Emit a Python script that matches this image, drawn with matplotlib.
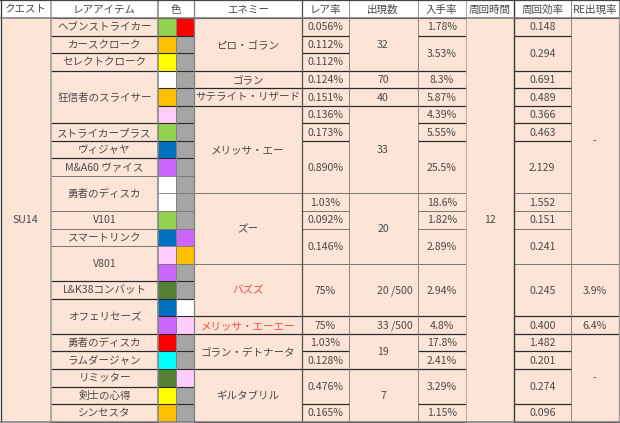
import matplotlib
matplotlib.use('Agg')
import matplotlib.pyplot as plt
from matplotlib.patches import Rectangle

plt.rcParams['font.family'] = ['Noto Sans CJK JP', 'DejaVu Sans']

# ----- Data -----
headers = ['クエスト', 'レアアイテム', '色', 'エネミー', 'レア率', '出現数', '入手率', '周回時間', '周回効率', 'RE出現率']

quest = [(0, 22, 'SU14')]

items = [(0, 0, 'ヘブンストライカー'), (1, 1, 'カースクローク'), (2, 2, 'セレクトクローク'),
         (3, 5, '狂信者のスライサー'), (6, 6, 'ストライカープラス'), (7, 7, 'ヴィジャヤ'),
         (8, 8, 'M&A60 ヴァイス'), (9, 10, '勇者のディスカ'), (11, 11, 'V101'),
         (12, 12, 'スマートリンク'), (13, 14, 'V801'), (15, 15, 'L&K38コンバット'),
         (16, 17, 'オフェリセーズ'), (18, 18, '勇者のディスカ'), (19, 19, 'ラムダージャン'),
         (20, 20, 'リミッター'), (21, 21, '剣士の心得'), (22, 22, 'シンセスタ')]

GREEN, RED, ORANGE, YELLOW = '#92D050', '#FF0000', '#FFC000', '#FFFF00'
WHITE, GRAY, PINK, BLUE = '#FFFFFF', '#A5A5A5', '#FFCCFF', '#0070C0'
PURPLE, DKGREEN, CYAN = '#CC66FF', '#548235', '#00FFFF'

color1 = [GREEN, ORANGE, YELLOW, WHITE, ORANGE, PINK, GREEN, BLUE, PURPLE, WHITE, WHITE, GREEN,
          BLUE, PINK, PURPLE, DKGREEN, BLUE, PURPLE, RED, CYAN, DKGREEN, YELLOW, ORANGE]
color2 = [RED, GRAY, GRAY, GRAY, GRAY, GRAY, GRAY, GRAY, GRAY, GRAY, GRAY, GRAY,
          PURPLE, ORANGE, GRAY, GRAY, WHITE, PINK, GRAY, GRAY, PINK, GRAY, GRAY]

enemies = [(0, 2, 'ピロ・ゴラン'), (3, 3, 'ゴラン'), (4, 4, 'サテライト・リザード'),
           (5, 9, 'メリッサ・エー'), (10, 13, 'ズー'), (14, 16, 'バズズ'),
           (17, 17, 'メリッサ・エーエー'), (18, 19, 'ゴラン・デトナータ'), (20, 22, 'ギルタブリル')]
red_enemies = ['バズズ', 'メリッサ・エーエー']

rare = [(0, 0, '0.056%'), (1, 1, '0.112%'), (2, 2, '0.112%'), (3, 3, '0.124%'), (4, 4, '0.151%'),
        (5, 5, '0.136%'), (6, 6, '0.173%'), (7, 9, '0.890%'), (10, 10, '1.03%'), (11, 11, '0.092%'),
        (12, 13, '0.146%'), (14, 16, '75%'), (17, 17, '75%'), (18, 18, '1.03%'), (19, 19, '0.128%'),
        (20, 21, '0.476%'), (22, 22, '0.165%')]

appear = [(0, 2, '32'), (3, 3, '70'), (4, 4, '40'), (5, 9, '33'), (10, 13, '20'), (14, 16, '20 /500'),
          (17, 17, '33 /500'), (18, 19, '19'), (20, 22, '7')]

obtain = [(0, 0, '1.78%'), (1, 2, '3.53%'), (3, 3, '8.3%'), (4, 4, '5.87%'), (5, 5, '4.39%'),
          (6, 6, '5.55%'), (7, 9, '25.5%'), (10, 10, '18.6%'), (11, 11, '1.82%'), (12, 13, '2.89%'),
          (14, 16, '2.94%'), (17, 17, '4.8%'), (18, 18, '17.8%'), (19, 19, '2.41%'),
          (20, 21, '3.29%'), (22, 22, '1.15%')]

lap_time = [(0, 22, '12')]

efficiency = [(0, 0, '0.148'), (1, 2, '0.294'), (3, 3, '0.691'), (4, 4, '0.489'), (5, 5, '0.366'),
              (6, 6, '0.463'), (7, 9, '2.129'), (10, 10, '1.552'), (11, 11, '0.151'), (12, 13, '0.241'),
              (14, 16, '0.245'), (17, 17, '0.400'), (18, 18, '1.482'), (19, 19, '0.201'),
              (20, 21, '0.274'), (22, 22, '0.096')]

re_rate = [(0, 13, '-'), (14, 16, '3.9%'), (17, 17, '6.4%'), (18, 22, '-')]

# ----- Mise en page (pixels) -----
W, H = 620, 423
HEADER_H = 18
ROW_H = 17.55
N_ROWS = 23
X_EDGES = [0.5, 51, 158, 176, 193.5, 302, 348.5, 417.5, 466, 513.5, 571, 618.5]
FILL = '#FCE4D6'
TEXT = '#4A4A4A'
DARK = '#2A2A2A'
THIN = '#7A7672'
THIN_TOPS = [9, 10, 11, 12, 13, 14]  # lignes plus claires au milieu du tableau
FS = 7.6
TEXT_DY = 0.6


def row_y(k):
    return HEADER_H + k * ROW_H


def hline(ax, x0, x1, k):
    color = THIN if k in THIN_TOPS else DARK
    lw = 0.6 if k in THIN_TOPS else 0.8
    ax.plot([x0, x1], [row_y(k), row_y(k)], color=color, lw=lw, solid_capstyle='butt', zorder=3)


def draw_column(ax, col, cells, align='center', pad=5):
    x0, x1 = X_EDGES[col], X_EDGES[col + 1]
    for start, end, label in cells:
        hline(ax, x0, x1, start)
        hline(ax, x0, x1, end + 1)
        y = (row_y(start) + row_y(end + 1)) / 2 + TEXT_DY
        color = '#F04848' if label in red_enemies else TEXT
        if align == 'right' and '/' in label:
            ax.text(x1 - pad, y, label, ha='right', va='center', fontsize=FS, color=color, zorder=4)
        else:
            ax.text((x0 + x1) / 2, y, label, ha='center', va='center', fontsize=FS, color=color, zorder=4)


fig = plt.figure(figsize=(W / 100, H / 100), dpi=100)
ax = fig.add_axes([0, 0, 1, 1])
ax.set_xlim(0, W)
ax.set_ylim(H, 0)
ax.axis('off')

# fond
ax.add_patch(Rectangle((X_EDGES[0], row_y(0)), X_EDGES[-1] - X_EDGES[0], N_ROWS * ROW_H,
                       facecolor=FILL, edgecolor='none', zorder=1))

# en-tête
header_cols = [0, 1, 2, 4, 5, 6, 7, 8, 9, 10]
for col, label in zip(header_cols, headers):
    x0 = X_EDGES[col]
    x1 = X_EDGES[col + 2] if col == 2 else X_EDGES[col + 1]
    ax.text((x0 + x1) / 2, HEADER_H / 2 + TEXT_DY, label, ha='center', va='center',
            fontsize=FS, color=TEXT, zorder=4)

# cases de couleur
for i, (c1, c2) in enumerate(zip(color1, color2)):
    ax.add_patch(Rectangle((X_EDGES[2], row_y(i)), X_EDGES[3] - X_EDGES[2], ROW_H, facecolor=c1, edgecolor='none', zorder=2))
    ax.add_patch(Rectangle((X_EDGES[3], row_y(i)), X_EDGES[4] - X_EDGES[3], ROW_H, facecolor=c2, edgecolor='none', zorder=2))
    hline(ax, X_EDGES[2], X_EDGES[4], i)

draw_column(ax, 1, items)
draw_column(ax, 4, enemies)
draw_column(ax, 5, rare)
draw_column(ax, 6, appear, align='right')
draw_column(ax, 7, obtain)
draw_column(ax, 9, efficiency)
draw_column(ax, 10, re_rate)

# colonnes sans lignes internes
ax.text((X_EDGES[0] + X_EDGES[1]) / 2, (row_y(quest[0][0]) + row_y(quest[0][1] + 1)) / 2 + TEXT_DY, quest[0][2],
        ha='center', va='center', fontsize=FS, color=TEXT, zorder=4)
ax.text((X_EDGES[8] + X_EDGES[9]) / 2, (row_y(lap_time[0][0]) + row_y(lap_time[0][1] + 1)) / 2 + TEXT_DY, lap_time[0][2],
        ha='center', va='center', fontsize=FS, color=TEXT, zorder=4)

# lignes verticales
v_styles = ['#333333', '#9A9A9A', '#808080', '#808080', '#808080', '#505050', '#7A7672',
            '#7A7672', '#B0ACA8', '#3A3A3A', '#7A7672', '#9A9A9A']
v_widths = [0.9, 1.1, 1.1, 0.7, 0.9, 0.9, 0.6, 0.6, 0.7, 1.0, 0.6, 0.9]
for i, x in enumerate(X_EDGES):
    top = row_y(0) if i == 3 else 0
    ax.plot([x, x], [top, row_y(N_ROWS)], color=v_styles[i], lw=v_widths[i], solid_capstyle='butt', zorder=5)

# cadre haut et bas, dessous de l'en-tête
ax.plot([0, X_EDGES[-1]], [0.5, 0.5], color='#444444', lw=0.9, zorder=5)
ax.plot([0, X_EDGES[-1]], [HEADER_H, HEADER_H], color='#7A7A7A', lw=1.1, zorder=5)
ax.plot([0, X_EDGES[-1]], [row_y(N_ROWS), row_y(N_ROWS)], color='#7A7A7A', lw=1.1, zorder=5)

fig.savefig('out.png', dpi=100, facecolor='white')
